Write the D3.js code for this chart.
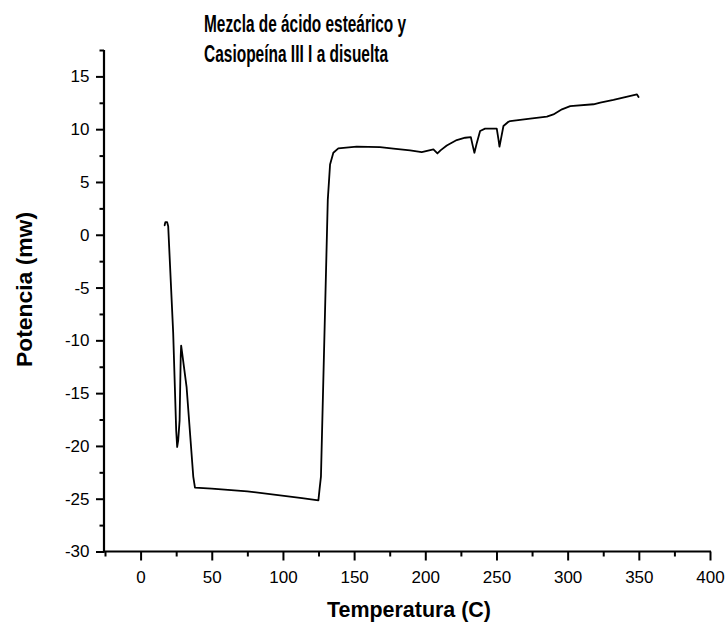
<!DOCTYPE html>
<html>
<head>
<meta charset="utf-8">
<script src="https://cdn.jsdelivr.net/npm/d3@7"></script>
<style>
  html, body { margin: 0; padding: 0; background: #fff; }
  svg { display: block; }
  text { font-family: "Liberation Sans", Arial, sans-serif; fill: #000; }
</style>
</head>
<body>
<svg id="chart" width="727" height="628"></svg>
<script>
// ---- data ----
const titleLines = ["Mezcla de ácido esteárico y", "Casiopeína III I a disuelta"];
const xLabel = "Temperatura (C)";
const yLabel = "Potencia (mw)";

const xMajorTicks = [0, 50, 100, 150, 200, 250, 300, 350, 400];
const xMinorTicks = [-25, 25, 75, 125, 175, 225, 275, 325, 375];
const yMajorTicks = [-30, -25, -20, -15, -10, -5, 0, 5, 10, 15];
const yMinorTicks = [-27.5, -22.5, -17.5, -12.5, -7.5, -2.5, 2.5, 7.5, 12.5, 17.5];

const temperature = [16.9, 17.4, 18.6, 19.4, 22.9, 25.0, 25.7, 26.4, 27.4, 28.2, 28.5, 29.0, 32.3, 37.0, 38.2,
  50, 75, 105, 113.4, 124.9, 125.8, 126.7, 131.5, 133.1, 135.4, 138.9, 151.8, 168.2, 177.6, 189.3, 197.5,
  205.7, 208.5, 210.9, 215.1, 222.1, 228.0, 232.0, 233.4, 234.5, 236.2, 238.5, 242.0, 250.2, 251.4, 252.1,
  253.1, 254.9, 258.4, 259.6, 273.7, 285.4, 290.0, 296.0, 301.8, 318.2, 322.9, 332.2, 348.7, 349.8];
const power = [0.9, 1.2, 1.2, 0.8, -9.3, -18.5, -20.1, -19.5, -17.6, -11.5, -10.5, -11.0, -14.4, -22.9, -23.95,
  -24.05, -24.3, -24.8, -24.94, -25.16, -24.0, -22.9, 3.3, 6.66, 7.77, 8.18, 8.34, 8.30, 8.15, 7.99, 7.83,
  8.08, 7.70, 8.02, 8.46, 8.97, 9.19, 9.25, 8.4, 7.77, 8.7, 9.83, 10.05, 10.05, 9.03, 8.34,
  9.03, 10.3, 10.7, 10.77, 11.0, 11.19, 11.4, 11.88, 12.19, 12.36, 12.52, 12.77, 13.3, 13.05];

// ---- chart ----
const svg = d3.select("#chart");
const x = d3.scaleLinear().domain([-25, 400]).range([105, 710]);
const y = d3.scaleLinear().domain([-30, 17.5]).range([551.5, 50]);
const axisY0 = 551.5, axisX0 = 104;

// minor ticks
svg.append("g").attr("transform", `translate(0,${axisY0})`)
  .call(d3.axisBottom(x).tickValues(xMinorTicks).tickSize(5).tickSizeOuter(0).tickFormat(""))
  .call(g => g.select(".domain").remove())
  .call(g => g.selectAll("line").attr("stroke", "#000").attr("stroke-width", 2));
svg.append("g").attr("transform", `translate(${axisX0},0)`)
  .call(d3.axisLeft(y).tickValues(yMinorTicks).tickSize(4.5).tickSizeOuter(0).tickFormat(""))
  .call(g => g.select(".domain").remove())
  .call(g => g.selectAll("line").attr("stroke", "#000").attr("stroke-width", 2));

// major x
svg.append("g").attr("transform", `translate(0,${axisY0})`)
  .call(d3.axisBottom(x).tickValues(xMajorTicks).tickSize(9).tickSizeOuter(0).tickPadding(10.4)
    .tickFormat(d => String(d)))
  .call(g => g.select(".domain").remove())
  .call(g => g.selectAll("line").attr("stroke", "#000").attr("stroke-width", 2))
  .call(g => g.selectAll("text").attr("font-size", 17).attr("font-family", "Liberation Sans, Arial, sans-serif").attr("fill", "#000"));

// major y
svg.append("g").attr("transform", `translate(${axisX0},0)`)
  .call(d3.axisLeft(y).tickValues(yMajorTicks).tickSize(8).tickSizeOuter(0).tickPadding(6.5)
    .tickFormat(d => String(d)))
  .call(g => g.select(".domain").remove())
  .call(g => g.selectAll("line").attr("stroke", "#000").attr("stroke-width", 2))
  .call(g => g.selectAll("text").attr("font-size", 17).attr("font-family", "Liberation Sans, Arial, sans-serif").attr("fill", "#000"));

// axis lines
svg.append("line").attr("x1", axisX0 - 1).attr("x2", x(400) + 1).attr("y1", axisY0).attr("y2", axisY0)
  .attr("stroke", "#000").attr("stroke-width", 2.2);
svg.append("line").attr("x1", axisX0).attr("x2", axisX0).attr("y1", y(17.5)).attr("y2", axisY0 + 1)
  .attr("stroke", "#000").attr("stroke-width", 2.2);

// curve
const pts = temperature.map((t, i) => [t, power[i]]);
svg.append("path").datum(pts)
  .attr("fill", "none").attr("stroke", "#000").attr("stroke-width", 1.8)
  .attr("stroke-linejoin", "round").attr("stroke-linecap", "round")
  .attr("d", d3.line().x(d => x(d[0])).y(d => y(d[1])));

// title
const titleLens = [202, 184];
titleLines.forEach((t, i) => {
  svg.append("text").attr("x", 204).attr("y", 32 + i * 30)
    .attr("font-size", 23).attr("font-weight", "bold")
    .attr("textLength", titleLens[i]).attr("lengthAdjust", "spacingAndGlyphs")
    .text(t);
});

// x label
svg.append("text").attr("x", 327).attr("y", 617)
  .attr("font-size", 22).attr("font-weight", "bold")
  .attr("textLength", 164).attr("lengthAdjust", "spacingAndGlyphs")
  .text(xLabel);

// y label
svg.append("text").attr("transform", "translate(32,367) rotate(-90)")
  .attr("x", 0).attr("y", 0)
  .attr("font-size", 22).attr("font-weight", "bold")
  .attr("textLength", 155).attr("lengthAdjust", "spacingAndGlyphs")
  .text(yLabel);
</script>
</body>
</html>
